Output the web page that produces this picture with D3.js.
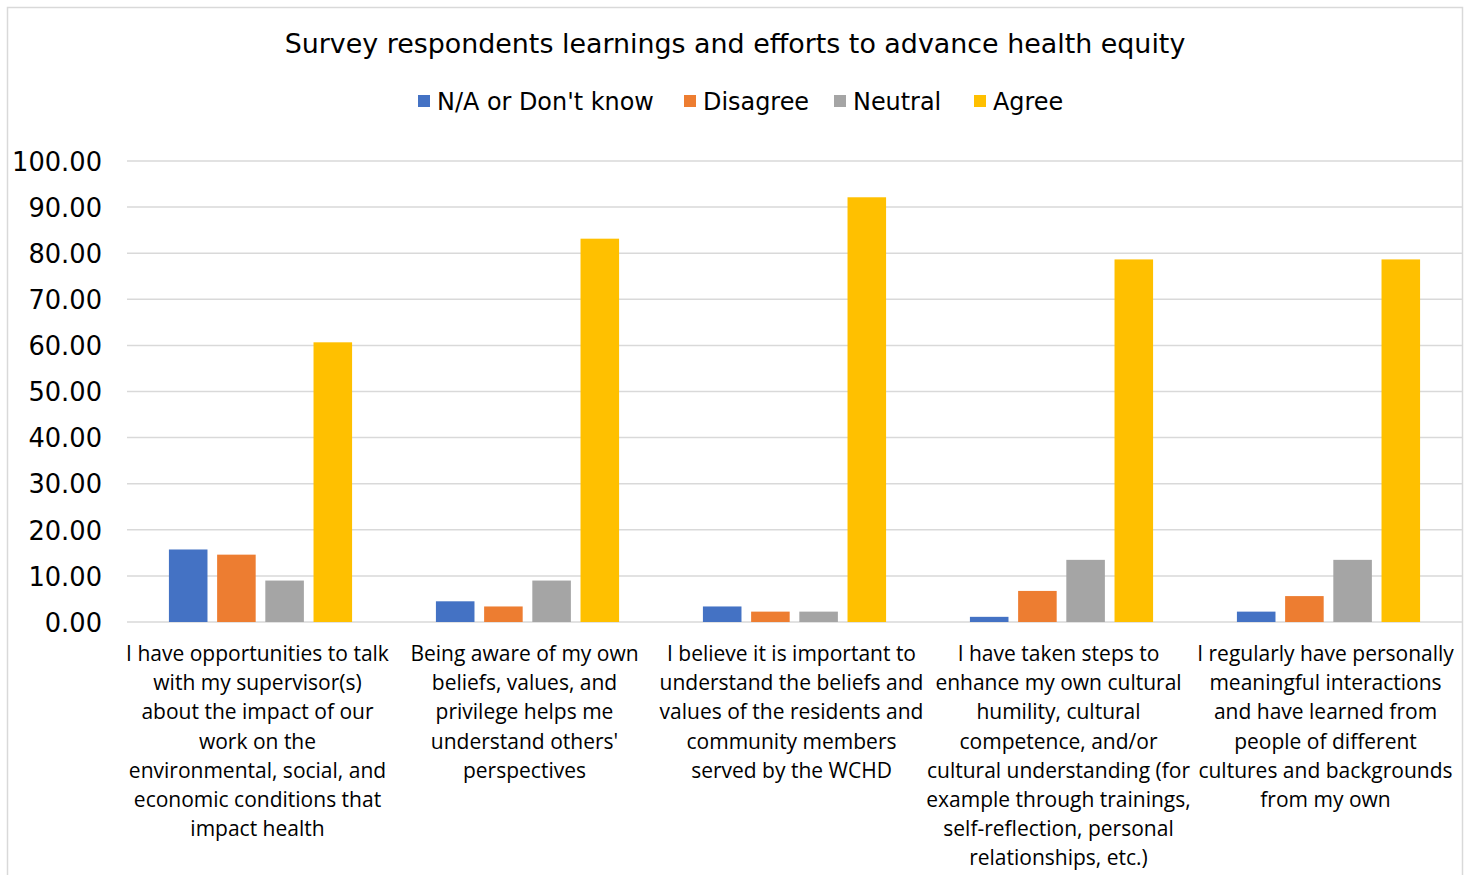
<!DOCTYPE html>
<html><head><meta charset="utf-8">
<script src="https://cdn.jsdelivr.net/npm/d3@7"></script>
<style>html,body{margin:0;padding:0;background:#fff;overflow:hidden}</style>
</head><body>
<svg id="chart" width="1473" height="875"></svg>
<script>
const title = "Survey respondents learnings and efforts to advance health equity";
const categories = [
  ["I have opportunities to talk","with my supervisor(s)","about the impact of our","work on the","environmental, social, and","economic conditions that","impact health"],
  ["Being aware of my own","beliefs, values, and","privilege helps me","understand others'","perspectives"],
  ["I believe it is important to","understand the beliefs and","values of the residents and","community members","served by the WCHD"],
  ["I have taken steps to","enhance my own cultural","humility, cultural","competence, and/or","cultural understanding (for","example through trainings,","self-reflection, personal","relationships, etc.)"],
  ["I regularly have personally","meaningful interactions","and have learned from","people of different","cultures and backgrounds","from my own"]
];
const seriesNames = ["N/A or Don't know","Disagree","Neutral","Agree"];
const naValues       = [15.73, 4.49, 3.37, 1.12, 2.25];
const disagreeValues = [14.61, 3.37, 2.25, 6.74, 5.62];
const neutralValues  = [8.99, 8.99, 2.25, 13.48, 13.48];
const agreeValues    = [60.67, 83.15, 92.13, 78.65, 78.65];
const yTicks = [0,10,20,30,40,50,60,70,80,90,100];
const colors = ["#4472C4","#ED7D31","#A5A5A5","#FFC000"];

const seriesValues = [naValues, disagreeValues, neutralValues, agreeValues];
const svg = d3.select("#chart");
const W = 1473, H = 875;
const hFont = "'DejaVu Sans', Verdana, sans-serif";
const cFont = "'Open Sans', sans-serif";

// fit font-size so text reaches a target width
function fit(sel, target, base) {
  sel.attr("font-size", base);
  const w = sel.node().getComputedTextLength();
  sel.attr("font-size", base * target / w);
}

// outer border
svg.append("rect").attr("x",7.5).attr("y",7.5).attr("width",1455).attr("height",H+10)
  .attr("fill","#fff").attr("stroke","#d9d9d9").attr("stroke-width",1.5);

const plot = {left:127, right:1462, top:161, bottom:622};
const y = d3.scaleLinear().domain([0,100]).range([plot.bottom, plot.top]);
const idx = d3.range(categories.length);
const x0 = d3.scaleBand().domain(idx).range([plot.left, plot.right]).padding(0);
const x1 = d3.scaleBand().domain(d3.range(seriesNames.length))
  .range([x0.bandwidth()*0.157, x0.bandwidth()*0.843]).paddingInner(0.2);

// title
const tt = svg.append("text").attr("x",735).attr("y",53).attr("text-anchor","middle")
  .attr("font-family",hFont).attr("fill","#000").text(title);
fit(tt, 901, 24);

// gridlines
svg.append("g").selectAll("line").data(yTicks).join("line")
  .attr("x1",plot.left).attr("x2",plot.right)
  .attr("y1",d=>y(d)).attr("y2",d=>y(d))
  .attr("stroke","#d9d9d9").attr("stroke-width",1.5);

// y axis
const yAxis = d3.axisLeft(y).tickValues(yTicks).tickFormat(d3.format(".2f")).tickSize(0).tickPadding(0);
const ya = svg.append("g").attr("transform",`translate(102,0)`).call(yAxis);
ya.select(".domain").remove();
ya.selectAll("text").attr("font-family",hFont).attr("fill","#000").attr("dy","0.36em");
{
  const last = ya.selectAll("text").filter(d=>d===100);
  fit(last, 90, 24);
  const fs = last.attr("font-size");
  ya.selectAll("text").attr("font-size", fs);
}

// bars
const groups = svg.append("g").selectAll("g").data(idx).join("g")
  .attr("transform",i=>`translate(${x0(i)},0)`);
groups.selectAll("rect").data(i=>seriesValues.map((vals,s)=>({s, v:vals[i]}))).join("rect")
  .attr("x",d=>x1(d.s)).attr("width",x1.bandwidth())
  .attr("y",d=>y(d.v)).attr("height",d=>y(0)-y(d.v))
  .attr("fill",d=>colors[d.s]);

// category labels
const lab = svg.append("g").selectAll("text").data(idx).join("text")
  .attr("text-anchor","middle").attr("font-family",cFont).attr("font-size",21).attr("fill","#000");
lab.each(function(i){
  const t = d3.select(this);
  categories[i].forEach((line,k)=>{
    t.append("tspan").attr("x",x0(i)+x0.bandwidth()/2-3).attr("y",661+k*29.2).text(line);
  });
});

// legend
const legendX = [418, 684, 834, 974];
const legendW = [217, 100, 84, 68];
const lg = svg.append("g").selectAll("g").data(seriesNames).join("g")
  .attr("transform",(d,i)=>`translate(${legendX[i]},95)`);
lg.append("rect").attr("x",0).attr("y",0).attr("width",12).attr("height",12).attr("fill",(d,i)=>colors[i]);
const lt = lg.append("text").attr("x",19).attr("y",15).attr("font-family",hFont)
  .attr("fill","#000").text(d=>d);
{
  const first = d3.select(lt.nodes()[0]);
  fit(first, legendW[0], 22);
  lt.attr("font-size", first.attr("font-size"));
}
</script>
</body></html>
